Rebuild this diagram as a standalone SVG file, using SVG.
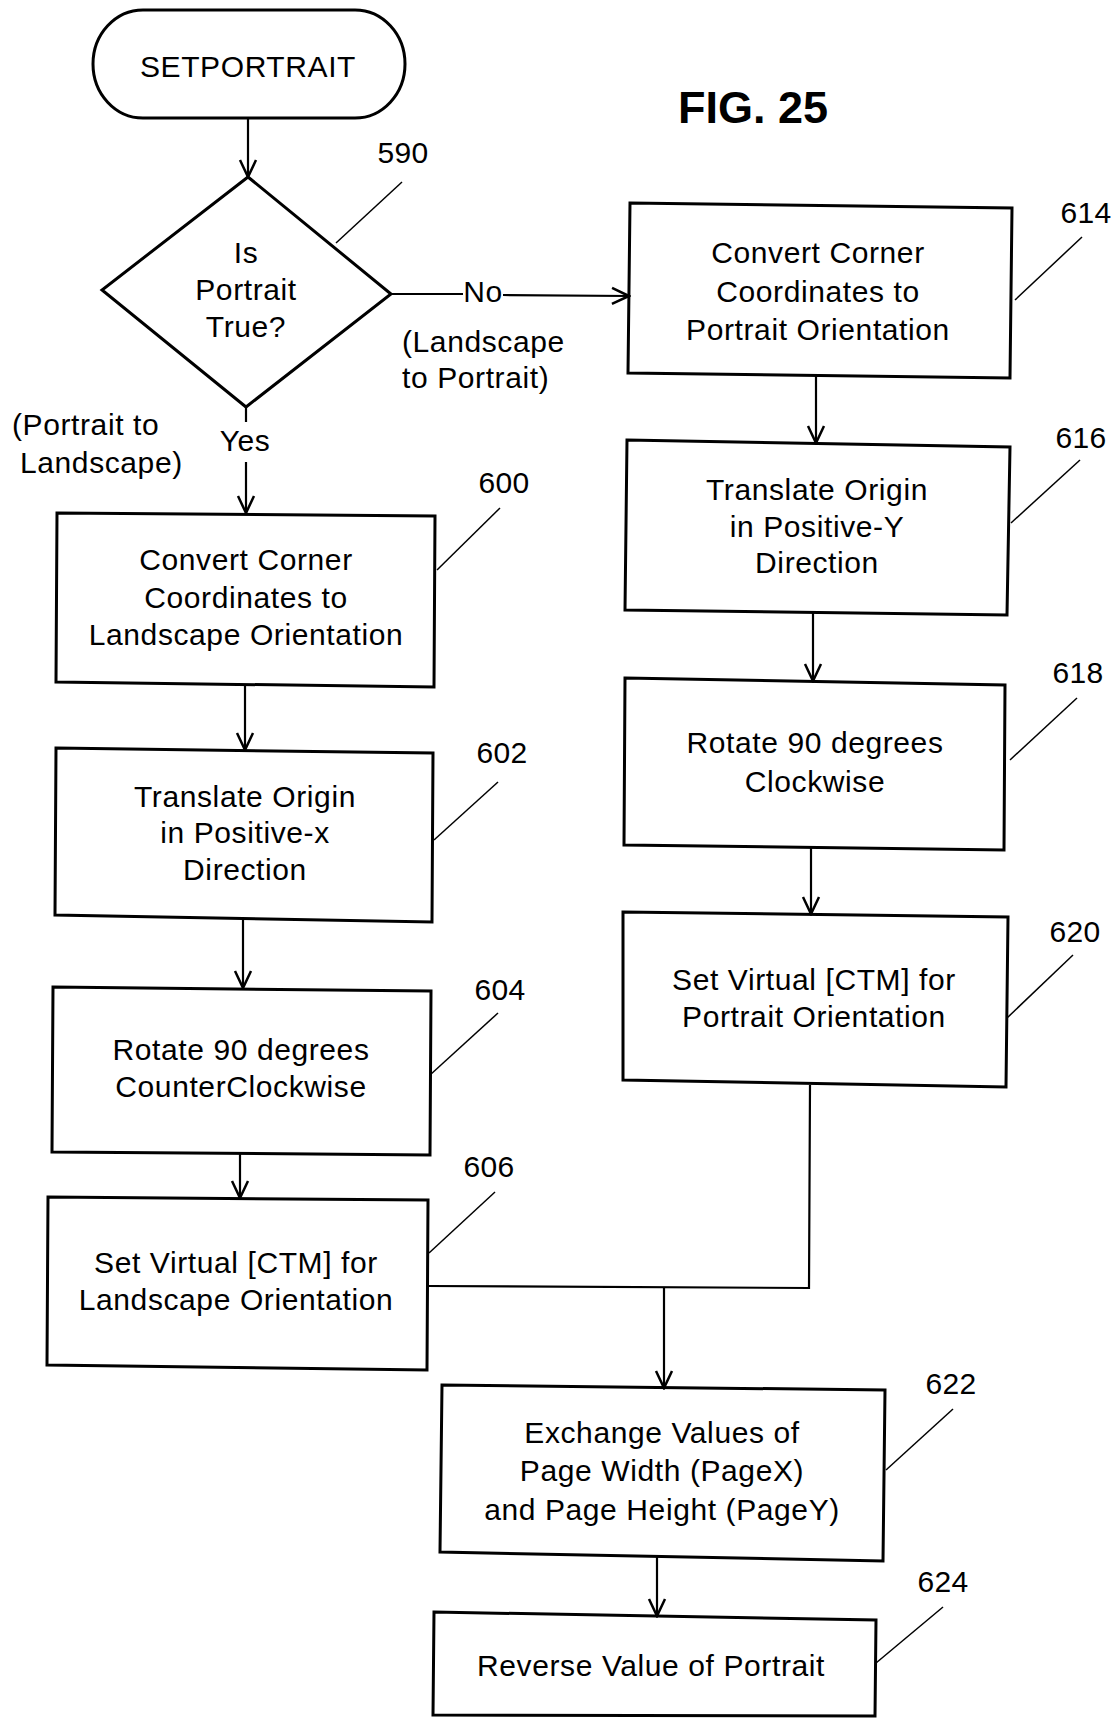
<svg xmlns="http://www.w3.org/2000/svg" width="1115" height="1721" viewBox="0 0 1115 1721">
<style>
text{font-family:"Liberation Sans",Arial,sans-serif;font-size:30px;letter-spacing:0.6px;fill:#000}
.c{text-anchor:middle}
.box{fill:none;stroke:#000;stroke-width:3}
.con{fill:none;stroke:#000;stroke-width:2.2}
.ld{fill:none;stroke:#000;stroke-width:1.5}
.fig{font-weight:bold;font-size:45px;letter-spacing:0}
.num{letter-spacing:0.3px}
</style>
<defs>
<marker id="ah" viewBox="-19 -10 21 20" refX="0" refY="0" markerWidth="21" markerHeight="20" markerUnits="userSpaceOnUse" orient="auto">
<path d="M-17,-8 L0,0 L-17,8" fill="none" stroke="#000" stroke-width="2.5"/>
</marker>
</defs>
<rect width="1115" height="1721" fill="#fff"/>
<text class="c fig" x="753" y="123">FIG. 25</text>

<g id="start">
<rect class="box" x="93" y="10" width="312" height="108" rx="50" ry="54"/>
<text class="c" x="248" y="77">SETPORTRAIT</text>
</g>

<g id="d590">
<polygon class="box" points="248,177 391,294 246,407 102,290"/>
<text class="c" x="246" y="263">Is</text>
<text class="c" x="246" y="300">Portrait</text>
<text class="c" x="246" y="337">True?</text>
<text class="c num" x="403" y="163">590</text>
<line class="ld" x1="402" y1="182" x2="336" y2="243"/>
</g>

<g id="b600">
<polygon class="box" points="57,513 435,516 434,687 56,682"/>
<text class="c" x="246" y="570">Convert Corner</text>
<text class="c" x="246" y="608">Coordinates to</text>
<text class="c" x="246" y="645">Landscape Orientation</text>
<text class="c num" x="504" y="493">600</text>
<line class="ld" x1="500" y1="508" x2="437" y2="570"/>
</g>

<g id="b602">
<polygon class="box" points="56,748 433,753 432,922 55,915"/>
<text class="c" x="245" y="807">Translate Origin</text>
<text class="c" x="245" y="843">in Positive-x</text>
<text class="c" x="245" y="880">Direction</text>
<text class="c num" x="502" y="763">602</text>
<line class="ld" x1="498" y1="782" x2="434" y2="840"/>
</g>

<g id="b604">
<polygon class="box" points="53,987 431,991 430,1155 52,1152"/>
<text class="c" x="241" y="1060">Rotate 90 degrees</text>
<text class="c" x="241" y="1097">CounterClockwise</text>
<text class="c num" x="500" y="1000">604</text>
<line class="ld" x1="498" y1="1013" x2="430" y2="1075"/>
</g>

<g id="b606">
<polygon class="box" points="48,1197 428,1200 427,1370 47,1365"/>
<text class="c" x="236" y="1273">Set Virtual [CTM] for</text>
<text class="c" x="236" y="1310">Landscape Orientation</text>
<text class="c num" x="489" y="1177">606</text>
<line class="ld" x1="495" y1="1192" x2="429" y2="1253"/>
</g>

<g id="b614">
<polygon class="box" points="630,203 1012,208 1010,378 628,373"/>
<text class="c" x="818" y="263">Convert Corner</text>
<text class="c" x="818" y="302">Coordinates to</text>
<text class="c" x="818" y="340">Portrait Orientation</text>
<text class="c num" x="1086" y="223">614</text>
<line class="ld" x1="1082" y1="237" x2="1015" y2="300"/>
</g>

<g id="b616">
<polygon class="box" points="627,440 1010,447 1007,615 625,610"/>
<text class="c" x="817" y="500">Translate Origin</text>
<text class="c" x="817" y="537">in Positive-Y</text>
<text class="c" x="817" y="573">Direction</text>
<text class="c num" x="1081" y="448">616</text>
<line class="ld" x1="1080" y1="460" x2="1011" y2="523"/>
</g>

<g id="b618">
<polygon class="box" points="625,678 1005,685 1004,850 624,845"/>
<text class="c" x="815" y="753">Rotate 90 degrees</text>
<text class="c" x="815" y="792">Clockwise</text>
<text class="c num" x="1078" y="683">618</text>
<line class="ld" x1="1077" y1="698" x2="1010" y2="760"/>
</g>

<g id="b620">
<polygon class="box" points="623,912 1008,917 1006,1087 623,1080"/>
<text class="c" x="814" y="990">Set Virtual [CTM] for</text>
<text class="c" x="814" y="1027">Portrait Orientation</text>
<text class="c num" x="1075" y="942">620</text>
<line class="ld" x1="1073" y1="955" x2="1007" y2="1018"/>
</g>

<g id="b622">
<polygon class="box" points="442,1385 885,1390 883,1561 440,1552"/>
<text class="c" x="662" y="1443">Exchange Values of</text>
<text class="c" x="662" y="1481">Page Width (PageX)</text>
<text class="c" x="662" y="1520">and Page Height (PageY)</text>
<text class="c num" x="951" y="1394">622</text>
<line class="ld" x1="953" y1="1409" x2="886" y2="1470"/>
</g>

<g id="b624">
<polygon class="box" points="434,1612 876,1620 875,1716 433,1715"/>
<text class="c" x="651" y="1676">Reverse Value of Portrait</text>
<text class="c num" x="943" y="1592">624</text>
<line class="ld" x1="943" y1="1607" x2="876" y2="1663"/>
</g>

<g id="connectors">
<line class="con" x1="248" y1="118" x2="248" y2="177" marker-end="url(#ah)"/>
<line class="con" x1="391" y1="294" x2="463" y2="294"/>
<line class="con" x1="503" y1="295" x2="629" y2="296" marker-end="url(#ah)"/>
<line class="con" x1="246" y1="407" x2="246" y2="422"/>
<line class="con" x1="246" y1="462" x2="246" y2="513" marker-end="url(#ah)"/>
<line class="con" x1="245" y1="685" x2="245" y2="750" marker-end="url(#ah)"/>
<line class="con" x1="243" y1="920" x2="243" y2="988" marker-end="url(#ah)"/>
<line class="con" x1="240" y1="1153" x2="240" y2="1198" marker-end="url(#ah)"/>
<line class="con" x1="816" y1="376" x2="816" y2="443" marker-end="url(#ah)"/>
<line class="con" x1="813" y1="612" x2="813" y2="681" marker-end="url(#ah)"/>
<line class="con" x1="811" y1="848" x2="811" y2="914" marker-end="url(#ah)"/>
<polyline class="con" points="810,1085 809,1288 427,1286"/>
<line class="con" x1="664" y1="1287" x2="664" y2="1388" marker-end="url(#ah)"/>
<line class="con" x1="657" y1="1557" x2="657" y2="1616" marker-end="url(#ah)"/>
<text class="c" x="483" y="302">No</text>
<text class="c" x="245" y="451">Yes</text>
<text x="402" y="352">(Landscape</text>
<text x="402" y="388">to Portrait)</text>
<text x="12" y="435">(Portrait to</text>
<text x="20" y="473">Landscape)</text>
</g>
</svg>
